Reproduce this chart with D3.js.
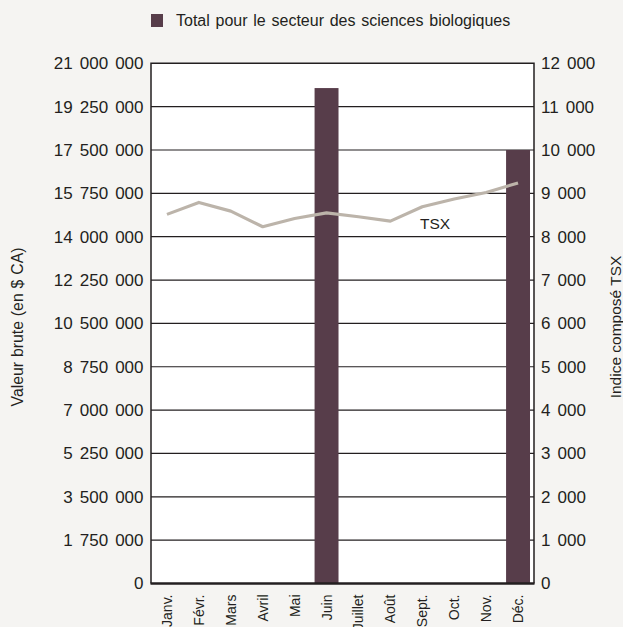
<!DOCTYPE html>
<html><head><meta charset="utf-8">
<script src="https://cdn.jsdelivr.net/npm/d3@7"></script>
<style>
html,body{margin:0;padding:0;background:#f5f4f2;}
svg{display:block;font-family:"Liberation Sans",Arial,Helvetica,sans-serif;}
</style></head>
<body><svg id="c" width="623" height="627"></svg>
<script>
const months = ["Janv.","Févr.","Mars","Avril","Mai","Juin","Juillet","Août","Sept.","Oct.","Nov.","Déc."];
const grossValues = [0,0,0,0,0,20000000,0,0,0,0,0,17500000];
const tsxValues = [8515,8790,8590,8230,8420,8550,8460,8360,8690,8870,9020,9240];
const leftTicks = [0,1750000,3500000,5250000,7000000,8750000,10500000,12250000,14000000,15750000,17500000,19250000,21000000];
const rightTicks = [0,1000,2000,3000,4000,5000,6000,7000,8000,9000,10000,11000,12000];
const legendLabel = "Total pour le secteur des sciences biologiques";
const leftTitle = "Valeur brute (en $ CA)";
const rightTitle = "Indice composé TSX";
const lineLabel = "TSX";

const svg = d3.select("#c");
const L = 151, R = 534, T = 63.3, B = 583.5;
const fmt = v => d3.format(",")(v).replace(/,/g, " ");

const x = d3.scaleBand().domain(months).range([L, R]).paddingInner(0.25).paddingOuter(0.125);
const yL = d3.scaleLinear().domain([0, 21000000]).range([B, T]);
const yR = d3.scaleLinear().domain([0, 12000]).range([B, T]);

svg.append("rect").attr("x", L).attr("y", T).attr("width", R - L).attr("height", B - T).attr("fill", "#ffffff");

// grid lines
svg.append("g").selectAll("line").data(leftTicks.slice(1, -1)).join("line")
  .attr("x1", L).attr("x2", R).attr("y1", d => yL(d)).attr("y2", d => yL(d))
  .attr("stroke", "#231f20").attr("stroke-width", 1.2);

// bars
svg.append("g").selectAll("rect").data(months.map((m, i) => ({m, v: grossValues[i]})).filter(d => d.v > 0)).join("rect")
  .attr("x", d => x(d.m)).attr("width", x.bandwidth())
  .attr("y", d => yL(d.v)).attr("height", d => B - yL(d.v))
  .attr("fill", "#573d4a");

// TSX line
const line = d3.line().x((d, i) => x(months[i]) + x.bandwidth() / 2).y(d => yR(d));
svg.append("path").datum(tsxValues).attr("d", line)
  .attr("fill", "none").attr("stroke", "#bcb4aa").attr("stroke-width", 3.2).attr("stroke-linejoin", "round");

svg.append("text").attr("x", 435).attr("y", 229).attr("text-anchor", "middle")
  .attr("font-size", 15.5).attr("fill", "#231f20").text(lineLabel);

// frame
svg.append("path").attr("d", `M${L},${B}V${T}H${R}V${B}`).attr("fill", "none").attr("stroke", "#231f20").attr("stroke-width", 1.5);
svg.append("line").attr("x1", L - 0.5).attr("x2", R + 0.5).attr("y1", B).attr("y2", B).attr("stroke", "#231f20").attr("stroke-width", 2.6);

// axes
const axL = d3.axisLeft(yL).tickValues(leftTicks).tickSize(0).tickPadding(7.5).tickFormat(fmt);
const gL = svg.append("g").attr("transform", `translate(${L},0)`).call(axL);
gL.select(".domain").remove();
gL.selectAll("text").attr("font-size", 17).attr("word-spacing", 2.3).attr("fill", "#231f20").attr("font-family", "Liberation Sans, Arial, sans-serif");

const axR = d3.axisRight(yR).tickValues(rightTicks).tickSize(0).tickPadding(7).tickFormat(fmt);
const gR = svg.append("g").attr("transform", `translate(${R},0)`).call(axR);
gR.select(".domain").remove();
gR.selectAll("text").attr("font-size", 17).attr("word-spacing", 2.3).attr("fill", "#231f20").attr("font-family", "Liberation Sans, Arial, sans-serif");

const axB = d3.axisBottom(x).tickSize(0).tickPadding(0);
const gB = svg.append("g").attr("transform", `translate(0,${B})`).call(axB);
gB.select(".domain").remove();
gB.selectAll("text").attr("font-size", 14).attr("fill", "#231f20").attr("font-family", "Liberation Sans, Arial, sans-serif")
  .attr("text-anchor", "end").attr("dy", null).attr("y", 0)
  .attr("transform", "translate(5,11) rotate(-90)");

// titles
svg.append("text").attr("transform", "translate(23,327) rotate(-90)").attr("text-anchor", "middle")
  .attr("font-size", 15.8).attr("word-spacing", 0.5).attr("fill", "#231f20").text(leftTitle);
svg.append("text").attr("transform", "translate(621,327) rotate(-90)").attr("text-anchor", "middle")
  .attr("font-size", 15.5).attr("fill", "#231f20").text(rightTitle);

// legend
svg.append("rect").attr("x", 151).attr("y", 14).attr("width", 12).attr("height", 13).attr("fill", "#573d4a");
svg.append("text").attr("x", 176).attr("y", 26).attr("font-size", 16).attr("word-spacing", 1.3).attr("fill", "#231f20").text(legendLabel);
</script></body></html>
